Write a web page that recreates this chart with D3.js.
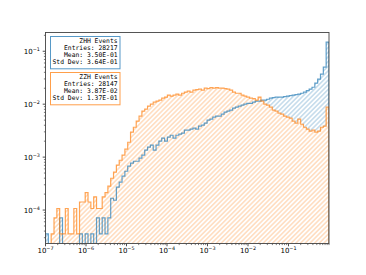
<!DOCTYPE html>
<html>
<head>
<meta charset="utf-8">
<script src="https://cdn.jsdelivr.net/npm/d3@7"></script>
<style>
  html, body { margin: 0; padding: 0; background: #fff; }
  svg { display: block; }
</style>
</head>
<body>
<div id="svganchor"></div>
<script>
/*
------------------------------
DATA: 100 log bins from 1e-7 to 1, fraction of events per bin
------------------------------
*/
const binCount = 100;
const xLow = 1e-7;
const xHigh = 1;

// ZHH (blue)
const zhhValues = [
  3.54e-5, 0, 0, 0, 0, 7.09e-5, 0, 0, 0, 0, 0, 0, 3.54e-5, 0, 3.54e-5, 0, 3.54e-5, 0, 7.09e-5, 3.54e-5,
  7.09e-5, 3.54e-5, 7.09e-5, 1.67e-4, 1.53e-4, 2.70e-4, 3.36e-4, 4.36e-4, 5.41e-4, 6.73e-4,
  7.67e-4, 8.36e-4, 8.36e-4, 9.53e-4, 1.09e-3, 1.35e-3, 1.54e-3, 1.68e-3, 1.35e-3, 1.68e-3,
  2.00e-3, 2.28e-3, 2.00e-3, 2.38e-3, 2.59e-3, 2.28e-3, 2.59e-3, 2.71e-3, 2.83e-3, 3.23e-3,
  3.23e-3, 3.37e-3, 3.52e-3, 3.37e-3, 3.84e-3, 4.01e-3, 4.37e-3, 4.99e-3, 5.20e-3, 5.68e-3,
  5.93e-3, 5.93e-3, 6.47e-3, 7.06e-3, 7.38e-3, 7.70e-3, 8.40e-3, 8.77e-3, 9.17e-3, 9.58e-3,
  1.00e-2, 1.04e-2, 1.04e-2, 1.09e-2, 1.14e-2, 1.14e-2, 1.19e-2, 1.19e-2, 1.24e-2, 1.30e-2,
  1.33e-2, 1.36e-2, 1.36e-2, 1.36e-2, 1.39e-2, 1.42e-2, 1.45e-2, 1.48e-2, 1.51e-2, 1.55e-2,
  1.61e-2, 1.69e-2, 1.80e-2, 1.92e-2, 2.09e-2, 2.49e-2, 2.97e-2, 3.69e-2, 5.00e-2, 1.49e-1
];

// ZZH (orange)
const zzhValues = [
  0, 0, 3.55e-5, 7.11e-5, 1.07e-4, 3.55e-5, 3.55e-5, 1.07e-4, 3.55e-5, 3.55e-5,
  1.07e-4, 3.55e-5, 1.42e-4, 1.42e-4, 2.13e-4, 1.42e-4, 1.07e-4, 1.78e-4, 1.07e-4, 1.07e-4,
  1.78e-4, 2.13e-4, 2.84e-4, 3.99e-4, 5.19e-4, 7.03e-4, 8.73e-4, 1.09e-3, 1.41e-3, 1.91e-3,
  2.96e-3, 3.67e-3, 4.77e-3, 5.93e-3, 7.38e-3, 8.04e-3, 9.17e-3, 1.00e-2, 1.09e-2, 1.14e-2,
  1.19e-2, 1.30e-2, 1.36e-2, 1.48e-2, 1.42e-2, 1.48e-2, 1.55e-2, 1.48e-2, 1.61e-2, 1.69e-2,
  1.76e-2, 1.69e-2, 1.84e-2, 1.88e-2, 1.92e-2, 1.84e-2, 2.01e-2, 1.96e-2, 2.05e-2, 2.01e-2,
  2.05e-2, 2.01e-2, 2.01e-2, 1.96e-2, 1.92e-2, 1.84e-2, 1.69e-2, 1.61e-2, 1.61e-2, 1.48e-2,
  1.42e-2, 1.36e-2, 1.30e-2, 1.27e-2, 1.19e-2, 1.36e-2, 1.14e-2, 1.00e-2, 9.58e-3, 8.77e-3,
  7.70e-3, 7.38e-3, 6.76e-3, 6.47e-3, 5.93e-3, 5.68e-3, 5.43e-3, 4.77e-3, 4.37e-3, 5.20e-3,
  4.18e-3, 3.67e-3, 3.37e-3, 3.09e-3, 3.23e-3, 2.96e-3, 3.09e-3, 3.67e-3, 3.84e-3, 8.77e-3
];

const zhhStats = ["ZHH Events", "Entries: 28217", "Mean: 3.50E-01", "Std Dev: 3.64E-01"];
const zzhStats = ["ZZH Events", "Entries: 28147", "Mean: 3.87E-02", "Std Dev: 1.37E-01"];

const xTickExps = [-7, -6, -5, -4, -3, -2, -1];
const yTickExps = [-4, -3, -2, -1];

/*
------------------------------
METHOD: canvas + scales
------------------------------
*/
const width = 366;
const height = 275;
const margin = { top: 32.5, right: 37, bottom: 31.5, left: 45.5 };
const plotBottom = height - margin.bottom;
const plotRight = width - margin.right;

const blue = "#1f77b4";
const orange = "#ff7f0e";

const edges = d3.range(binCount + 1).map(i => xLow * Math.pow(xHigh / xLow, i / binCount));

const x = d3.scaleLog().domain([xLow, xHigh]).range([margin.left, plotRight]);

// matplotlib-like 5% margins in log space
const positives = zhhValues.concat(zzhValues).filter(v => v > 0);
const lo = Math.log10(d3.min(positives));
const hi = Math.log10(d3.max(positives));
const pad = 0.05 * (hi - lo);
const y = d3.scaleLog()
  .domain([Math.pow(10, lo - pad), Math.pow(10, hi + pad)])
  .range([plotBottom, margin.top]);

const svg = d3.select("#svganchor")
  .append("svg")
  .attr("width", width)
  .attr("height", height);

const defs = svg.append("defs");

defs.append("clipPath").attr("id", "plotclip")
  .append("rect")
  .attr("x", margin.left)
  .attr("y", margin.top)
  .attr("width", plotRight - margin.left)
  .attr("height", plotBottom - margin.top);

// hatch '///' -- white background so the orange one hides the blue one below it
function hatch(id, color) {
  const s = 3.3;
  const p = defs.append("pattern")
    .attr("id", id)
    .attr("patternUnits", "userSpaceOnUse")
    .attr("width", s)
    .attr("height", s)
    .attr("patternTransform", "rotate(45)");
  p.append("rect").attr("x", -1).attr("y", -1).attr("width", s + 2).attr("height", s + 2).attr("fill", "#fff");
  p.append("line")
    .attr("x1", s / 2).attr("y1", -1)
    .attr("x2", s / 2).attr("y2", s + 1)
    .attr("stroke", color)
    .attr("stroke-width", 0.9);
}
hatch("hatchBlue", d3.interpolateRgb("#fff", blue)(0.45));
hatch("hatchOrange", d3.interpolateRgb("#fff", orange)(0.45));

/*
------------------------------
SECTION: step histograms
------------------------------
*/
function stepPoints(values) {
  const pts = [[edges[0], 0]];
  values.forEach((v, i) => {
    pts.push([edges[i], v]);
    pts.push([edges[i + 1], v]);
  });
  pts.push([edges[binCount], 0]);
  return pts;
}

const step = d3.line()
  .x(d => x(d[0]))
  .y(d => d[1] > 0 ? y(d[1]) : plotBottom + 3);

const plot = svg.append("g").attr("clip-path", "url(#plotclip)");

const series = [[zhhValues, blue, "hatchBlue"], [zzhValues, orange, "hatchOrange"]];

// hatched areas first, outlines on top
series.forEach(([vals, color, hid]) => {
  plot.append("path")
    .attr("d", step(stepPoints(vals)) + "Z")
    .attr("fill", `url(#${hid})`)
    .attr("stroke", "none");
});
series.forEach(([vals, color]) => {
  plot.append("path")
    .attr("d", step(stepPoints(vals)))
    .attr("fill", "none")
    .attr("stroke", color)
    .attr("stroke-opacity", 0.7)
    .attr("stroke-width", 1.2)
    .attr("stroke-linejoin", "miter");
});

/*
------------------------------
SECTION: axes (major + minor ticks, 10^n labels)
------------------------------
*/
const xMinor = x.ticks().filter(v => !xTickExps.some(e => Math.abs(Math.log10(v) - e) < 1e-6));
const yMinor = y.ticks().filter(v => !yTickExps.some(e => Math.abs(Math.log10(v) - e) < 1e-6));

const axisG = svg.append("g").attr("stroke", "#222");

axisG.selectAll(".xmaj").data(xTickExps).join("line")
  .attr("x1", d => x(Math.pow(10, d))).attr("x2", d => x(Math.pow(10, d)))
  .attr("y1", plotBottom).attr("y2", plotBottom + 2.8).attr("stroke-width", 0.8);
axisG.selectAll(".xmin").data(xMinor).join("line")
  .attr("x1", d => x(d)).attr("x2", d => x(d))
  .attr("y1", plotBottom).attr("y2", plotBottom + 1.6).attr("stroke-width", 0.6);
axisG.selectAll(".ymaj").data(yTickExps).join("line")
  .attr("y1", d => y(Math.pow(10, d))).attr("y2", d => y(Math.pow(10, d)))
  .attr("x1", margin.left).attr("x2", margin.left - 2.8).attr("stroke-width", 0.8);
axisG.selectAll(".ymin").data(yMinor).join("line")
  .attr("y1", d => y(d)).attr("y2", d => y(d))
  .attr("x1", margin.left).attr("x2", margin.left - 1.6).attr("stroke-width", 0.6);

// frame
svg.append("rect")
  .attr("x", margin.left)
  .attr("y", margin.top)
  .attr("width", plotRight - margin.left)
  .attr("height", plotBottom - margin.top)
  .attr("fill", "none")
  .attr("stroke", "#444")
  .attr("stroke-width", 0.9);

function powLabel(sel, e) {
  sel.append("tspan").text("10");
  sel.append("tspan").attr("dy", -2.9).attr("font-size", 4.9).text("\u2212" + Math.abs(e));
}

svg.selectAll(".xlab").data(xTickExps).join("text")
  .attr("x", d => x(Math.pow(10, d)))
  .attr("y", plotBottom + 9.8)
  .attr("text-anchor", "middle")
  .attr("font-family", "DejaVu Sans")
  .attr("font-size", 7)
  .attr("fill", "#000")
  .each(function (d) { powLabel(d3.select(this), d); });

svg.selectAll(".ylab").data(yTickExps).join("text")
  .attr("x", margin.left - 5.6)
  .attr("y", d => y(Math.pow(10, d)) + 2.6)
  .attr("text-anchor", "end")
  .attr("font-family", "DejaVu Sans")
  .attr("font-size", 7)
  .attr("fill", "#000")
  .each(function (d) { powLabel(d3.select(this), d); });

/*
------------------------------
SECTION: stat boxes
------------------------------
*/
[[zhhStats, blue, 36.5], [zzhStats, orange, 72.5]].forEach(([lines, color, top]) => {
  const g = svg.append("g");
  g.append("rect")
    .attr("x", 50.5).attr("y", top)
    .attr("width", 69.5).attr("height", 32.3)
    .attr("fill", "#fff")
    .attr("stroke", color)
    .attr("stroke-opacity", 0.75)
    .attr("stroke-width", 1);
  g.selectAll("text").data(lines).join("text")
    .attr("x", 117.6)
    .attr("y", (d, i) => top + 6.9 + i * 7.0)
    .attr("text-anchor", "end")
    .attr("font-family", "DejaVu Sans Mono")
    .attr("font-size", 6.36)
    .attr("fill", "#000")
    .text(d => d);
});
</script>
</body>
</html>
